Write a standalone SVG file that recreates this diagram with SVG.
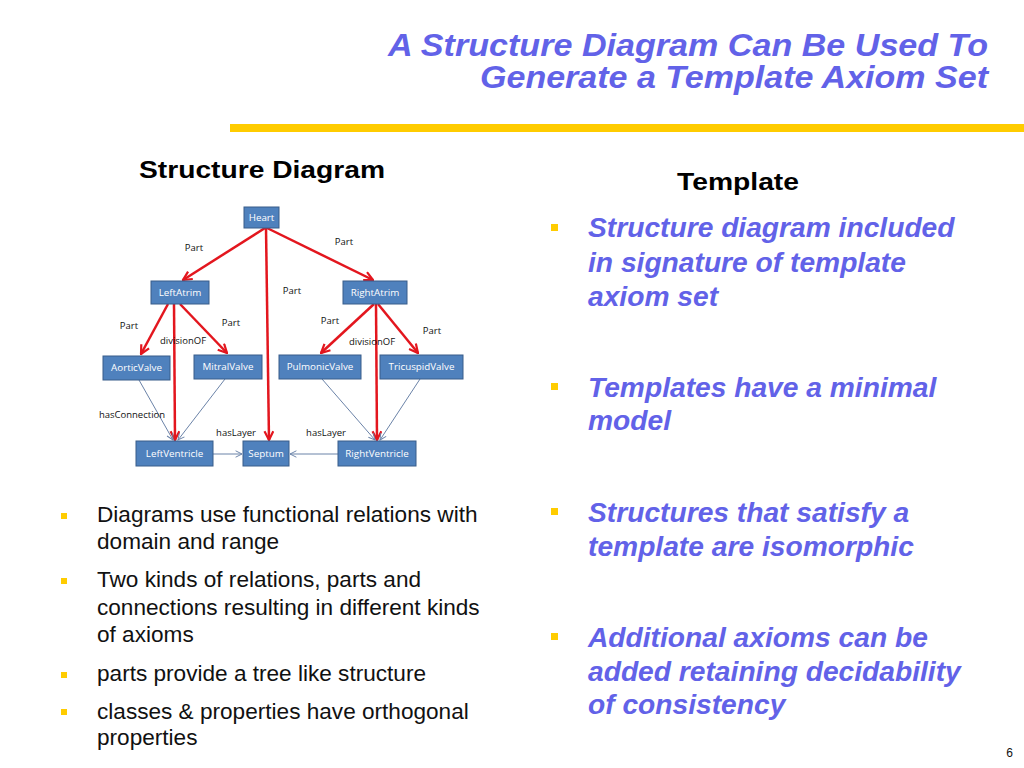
<svg xmlns="http://www.w3.org/2000/svg" width="1024" height="768" viewBox="0 0 1024 768">
<defs>
<style>
.title{font-family:"Liberation Sans",Arial,sans-serif;font-size:31px;font-style:italic;font-weight:bold;fill:#6262E8}
.head{font-family:"Liberation Sans",Arial,sans-serif;font-size:24px;font-weight:bold;fill:#000}
.bl{font-family:"Liberation Sans",Arial,sans-serif;font-size:22.6px;fill:#111}
.br{font-family:"Liberation Sans",Arial,sans-serif;font-size:28.2px;font-style:italic;font-weight:bold;fill:#6262E8}
.bul{fill:#FFCC00}
.node rect{fill:#4F81BD;stroke:#385D8A;stroke-width:1}
.node text{font-family:"Open Sans","Liberation Sans",sans-serif;font-size:9.8px;fill:#fff;text-anchor:middle}
.lbl{font-family:"Open Sans","Liberation Sans",sans-serif;font-size:9.5px;fill:#111;text-anchor:middle}
.red{stroke:#E3161E;stroke-width:2.5;fill:none;marker-end:url(#ar)}
.gray{stroke:#6B83A8;stroke-width:1;fill:none;marker-end:url(#ag)}
</style>
<marker id="ar" viewBox="0 0 10 10" refX="9" refY="5" markerWidth="4.4" markerHeight="4.4" orient="auto" markerUnits="strokeWidth">
<path d="M1,1 L9,5 L1,9" fill="none" stroke="#E3161E" stroke-width="2"/>
</marker>
<marker id="ag" viewBox="0 0 10 10" refX="9" refY="5" markerWidth="8" markerHeight="8" orient="auto" markerUnits="strokeWidth">
<path d="M1,1 L9,5 L1,9" fill="none" stroke="#6B83A8" stroke-width="1.2"/>
</marker>
</defs>
<rect width="1024" height="768" fill="#fff"/>

<text class="title" x="988" y="56" text-anchor="end" textLength="600" lengthAdjust="spacingAndGlyphs">A Structure Diagram Can Be Used To</text>
<text class="title" x="988" y="88" text-anchor="end" textLength="508" lengthAdjust="spacingAndGlyphs">Generate a Template Axiom Set</text>
<rect x="230" y="124" width="794" height="8" fill="#FFCC00"/>

<text class="head" x="139" y="178" textLength="246" lengthAdjust="spacingAndGlyphs">Structure Diagram</text>
<text class="head" x="677" y="190" textLength="122" lengthAdjust="spacingAndGlyphs">Template</text>

<g id="connectors">
<path class="red" d="M265,228 L183,280"/>
<path class="red" d="M267,228 L373,280"/>
<path class="red" d="M266,228 L269,440"/>
<path class="red" d="M168,304 L141,354"/>
<path class="red" d="M174,304 L175,440"/>
<path class="red" d="M180,304 L227,353"/>
<path class="red" d="M374,304 L321,353"/>
<path class="red" d="M376,304 L377,440"/>
<path class="red" d="M378,304 L418,353"/>
<path class="gray" d="M139,380 L173,440"/>
<path class="gray" d="M225,379 L178,440"/>
<path class="gray" d="M322,379 L375,440"/>
<path class="gray" d="M420,379 L380,440"/>
<path class="gray" d="M213,454 L242,454"/>
<path class="gray" d="M338,454 L290,454"/>
</g>

<g id="edge-labels">
<text class="lbl" x="194" y="251">Part</text>
<text class="lbl" x="344" y="245">Part</text>
<text class="lbl" x="292" y="294">Part</text>
<text class="lbl" x="129" y="329">Part</text>
<text class="lbl" x="183" y="344">divisionOF</text>
<text class="lbl" x="231" y="326">Part</text>
<text class="lbl" x="330" y="324">Part</text>
<text class="lbl" x="372" y="345">divisionOF</text>
<text class="lbl" x="432" y="334">Part</text>
<text class="lbl" x="132" y="418">hasConnection</text>
<text class="lbl" x="236" y="436">hasLayer</text>
<text class="lbl" x="326" y="436">hasLayer</text>
</g>

<g id="n-heart" class="node"><rect x="244" y="207" width="35" height="21"/><text x="261.5" y="221">Heart</text></g>
<g id="n-leftatrim" class="node"><rect x="151" y="281" width="58" height="23"/><text x="180" y="296">LeftAtrim</text></g>
<g id="n-rightatrim" class="node"><rect x="343" y="281" width="64" height="23"/><text x="375" y="296">RightAtrim</text></g>
<g id="n-aorticvalve" class="node"><rect x="103" y="356" width="67" height="24"/><text x="136.5" y="371">AorticValve</text></g>
<g id="n-mitralvalve" class="node"><rect x="194" y="355" width="68" height="24"/><text x="228" y="370">MitralValve</text></g>
<g id="n-pulmonicvalve" class="node"><rect x="279" y="355" width="82" height="24"/><text x="320" y="370">PulmonicValve</text></g>
<g id="n-tricuspidvalve" class="node"><rect x="380" y="355" width="83" height="24"/><text x="421.5" y="370">TricuspidValve</text></g>
<g id="n-leftventricle" class="node"><rect x="136" y="441" width="77" height="25"/><text x="174.5" y="457">LeftVentricle</text></g>
<g id="n-septum" class="node"><rect x="243" y="441" width="46" height="25"/><text x="266" y="457">Septum</text></g>
<g id="n-rightventricle" class="node"><rect x="338" y="441" width="78" height="25"/><text x="377" y="457">RightVentricle</text></g>

<g id="left-bullets">
<rect class="bul" x="61" y="513" width="6" height="6"/>
<text class="bl" x="97" y="522">Diagrams use functional relations with</text>
<text class="bl" x="97" y="549">domain and range</text>
<rect class="bul" x="61" y="578" width="6" height="6"/>
<text class="bl" x="97" y="587">Two kinds of relations, parts and</text>
<text class="bl" x="97" y="615">connections resulting in different kinds</text>
<text class="bl" x="97" y="642">of axioms</text>
<rect class="bul" x="61" y="672" width="6" height="6"/>
<text class="bl" x="97" y="681">parts provide a tree like structure</text>
<rect class="bul" x="61" y="709" width="6" height="6"/>
<text class="bl" x="97" y="719">classes &amp; properties have orthogonal</text>
<text class="bl" x="97" y="745">properties</text>
</g>

<g id="right-bullets">
<rect class="bul" x="551" y="224" width="7" height="7"/>
<text class="br" x="588" y="237">Structure diagram included</text>
<text class="br" x="588" y="272">in signature of template</text>
<text class="br" x="588" y="306">axiom set</text>
<rect class="bul" x="551" y="383" width="7" height="7"/>
<text class="br" x="588" y="397">Templates have a minimal</text>
<text class="br" x="588" y="430">model</text>
<rect class="bul" x="551" y="508" width="7" height="7"/>
<text class="br" x="588" y="522">Structures that satisfy a</text>
<text class="br" x="588" y="556">template are isomorphic</text>
<rect class="bul" x="551" y="633" width="7" height="7"/>
<text class="br" x="588" y="647">Additional axioms can be</text>
<text class="br" x="588" y="681">added retaining decidability</text>
<text class="br" x="588" y="714">of consistency</text>
</g>

<text x="1013" y="757" text-anchor="end" font-family="Liberation Sans,Arial,sans-serif" font-size="12" fill="#111">6</text>
</svg>
